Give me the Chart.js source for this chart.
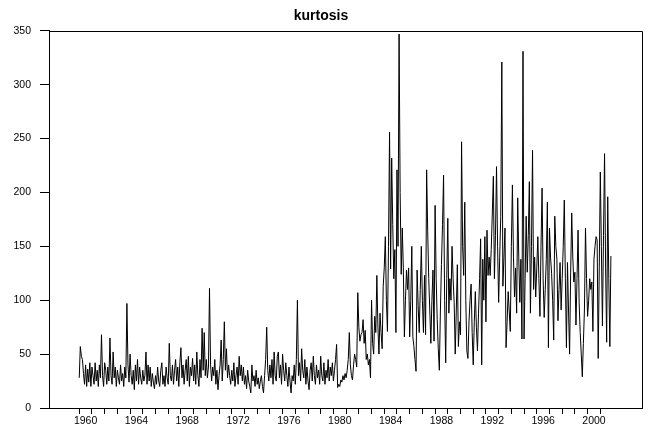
<!DOCTYPE html>
<html>
<head>
<meta charset="utf-8">
<script src="https://cdn.jsdelivr.net/npm/chart.js@4/dist/chart.umd.min.js"></script>
<style>
  html, body { margin: 0; padding: 0; background: #fff; }
</style>
</head>
<body>
<canvas id="myChart" width="649" height="430"></canvas>
<script>
// monthly series, first value is Jan 1960
const START_YEAR = 1960;
const kurtosis = [
  28, 57, 48, 45, 32, 22, 40, 20, 36, 24, 42, 20,      // 1960
  38, 30, 22, 42, 25, 35, 20, 40, 28, 68, 30, 20,      // 1961
  42, 35, 22, 38, 25, 65, 30, 22, 52, 28, 38, 20,      // 1962
  35, 28, 22, 40, 25, 32, 20, 38, 28, 97, 40, 24,      // 1963
  50, 30, 22, 35, 17, 40, 25, 45, 22, 38, 28, 22,      // 1964
  35, 25, 30, 52, 22, 40, 25, 38, 20, 32, 24, 18,      // 1965
  30, 22, 38, 25, 20, 35, 42, 22, 30, 20, 38, 28,      // 1966
  22, 60, 30, 25, 40, 22, 35, 45, 25, 38, 20, 42,      // 1967
  56, 28, 40, 22, 35, 45, 25, 48, 20, 38, 30, 46,      // 1968
  25, 40, 22, 52, 30, 20, 45, 28, 74, 35, 70, 30,      // 1969
  45, 28, 38, 111, 40, 25, 38, 30, 45, 22, 35, 17,     // 1970
  30, 40, 63, 25, 45, 80, 35, 55, 28, 40, 30, 22,      // 1971
  35, 25, 42, 20, 30, 38, 22, 48, 30, 40, 25, 38,      // 1972
  22, 30, 18, 35, 25, 20, 14, 40, 25, 30, 20, 35,      // 1973
  22, 28, 18, 25, 30, 20, 14, 30, 45, 75, 35, 25,      // 1974
  40, 28, 45, 22, 52, 30, 25, 48, 52, 28, 40, 22,      // 1975
  50, 35, 25, 42, 30, 20, 38, 25, 14, 30, 25, 40,      // 1976
  22, 45, 100, 30, 42, 25, 55, 35, 28, 45, 22, 38,     // 1977
  25, 17, 35, 42, 25, 48, 30, 22, 40, 28, 35, 22,      // 1978
  48, 30, 25, 42, 22, 35, 28, 45, 25, 38, 30, 42,      // 1979
  25, 35, 45, 59, 19, 22, 20, 26, 24, 30, 26, 32,      // 1980
  28, 35, 45, 70, 40, 30, 26, 40, 50, 45, 38, 107,     // 1981
  75, 62, 68, 70, 82, 60, 72, 45, 50, 40, 45, 28,      // 1982
  100, 60, 50, 85, 70, 123, 75, 50, 88, 70, 55, 113,   // 1983
  130, 159, 100, 71, 150, 256, 129, 232, 170, 120, 147, 70,   // 1984
  221, 150, 347, 200, 124, 167, 130, 66, 100, 128, 110, 130,  // 1985
  66, 100, 150, 66, 57, 45, 34, 128, 95, 70, 110, 150,        // 1986
  100, 70, 123, 68, 221, 165, 120, 90, 60, 100, 128, 62,      // 1987
  188, 120, 82, 55, 35, 90, 133, 170, 216, 100, 42, 120,      // 1988
  176, 88, 120, 100, 150, 120, 98, 50, 90, 133, 57, 80,       // 1989
  68, 247, 150, 123, 191, 100, 53, 46, 80, 100, 115, 70,      // 1990
  40, 80, 108, 75, 53, 88, 120, 157, 40, 138, 100, 159,       // 1991
  80, 165, 123, 140, 123, 147, 180, 215, 120, 160, 224, 150,  // 1992
  98, 140, 178, 321, 113, 140, 167, 56, 80, 108, 90, 71,      // 1993
  150, 207, 140, 103, 130, 88, 195, 140, 98, 138, 64, 331,    // 1994
  64, 120, 178, 126, 160, 210, 88, 150, 239, 110, 140, 103,   // 1995
  130, 159, 120, 85, 150, 204, 120, 84, 110, 138, 191, 56,    // 1996
  167, 140, 125, 100, 63, 178, 150, 138, 81, 110, 135, 91,    // 1997
  120, 150, 193, 120, 56, 135, 90, 50, 126, 181, 140, 117,    // 1998
  126, 77, 120, 165, 98, 70, 50, 29, 60, 91, 167, 120,        // 1999
  85, 100, 120, 110, 117, 71, 138, 150, 159, 156, 46, 130,    // 2000
  219, 150, 76, 160, 236, 130, 61, 196, 120, 57, 141          // 2001
];

const Y_TICKS = [0, 50, 100, 150, 200, 250, 300, 350];
const YEAR_TICKS = [
  1960, 1961, 1962, 1963, 1964, 1965, 1966, 1967, 1968, 1969,
  1970, 1971, 1972, 1973, 1974, 1975, 1976, 1977, 1978, 1979,
  1980, 1981, 1982, 1983, 1984, 1985, 1986, 1987, 1988, 1989,
  1990, 1991, 1992, 1993, 1994, 1995, 1996, 1997, 1998, 1999,
  2000, 2001
];
const YEAR_LABELS = [1960, 1964, 1968, 1972, 1976, 1980, 1984, 1988, 1992, 1996, 2000];

const points = kurtosis.map((v, i) => ({ x: START_YEAR + i / 12, y: v }));

// top and right sides of the box
const frame = {
  id: 'frame',
  afterDraw(chart) {
    const { ctx, chartArea: a } = chart;
    const l = Math.round(a.left) + 0.5, r = Math.round(a.right) + 0.5;
    const t = Math.round(a.top) + 0.5, b = Math.round(a.bottom) + 0.5;
    ctx.save();
    ctx.strokeStyle = '#000';
    ctx.lineWidth = 1;
    ctx.beginPath();
    ctx.moveTo(l, t);
    ctx.lineTo(r, t);
    ctx.lineTo(r, b);
    ctx.stroke();
    ctx.restore();
  }
};

const tickFont = { family: 'Arial, "Liberation Sans", sans-serif', size: 10.5 };

new Chart(document.querySelector('#myChart'), {
  type: 'line',
  data: {
    datasets: [{
      data: points,
      borderColor: '#000',
      borderWidth: 1,
      pointRadius: 0,
      tension: 0,
      fill: false
    }]
  },
  options: {
    responsive: false,
    animation: false,
    layout: { padding: { left: 0, right: 7, top: 0, bottom: 0 } },
    plugins: {
      legend: { display: false },
      tooltip: { enabled: false },
      title: {
        display: true,
        text: 'kurtosis',
        color: '#000',
        font: { family: 'Arial, "Liberation Sans", sans-serif', size: 14, weight: 'bold' },
        padding: { top: 8, bottom: 6 }
      }
    },
    scales: {
      x: {
        type: 'linear',
        min: 1957.62,
        max: 2004.28,
        afterBuildTicks: s => { s.ticks = YEAR_TICKS.map(v => ({ value: v })); },
        afterFit: s => { s.height = 22; },
        grid: { drawOnChartArea: false, tickLength: 6, color: '#000' },
        border: { color: '#000' },
        ticks: {
          autoSkip: false,
          maxRotation: 0,
          labelOffset: 6.36,
          padding: 1,
          color: '#000',
          font: tickFont,
          callback: v => YEAR_LABELS.includes(v) ? String(v) : ''
        }
      },
      y: {
        min: 0,
        max: 350,
        afterBuildTicks: s => { s.ticks = Y_TICKS.map(v => ({ value: v })); },
        afterFit: s => { s.width = 49; },
        grid: { drawOnChartArea: false, tickLength: 9, color: '#000' },
        border: { color: '#000' },
        ticks: { padding: 9, color: '#000', font: tickFont }
      }
    }
  },
  plugins: [frame]
});
</script>
</body>
</html>
